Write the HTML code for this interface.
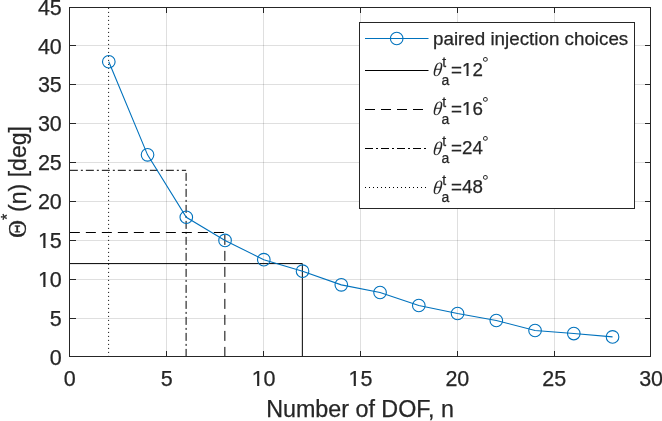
<!DOCTYPE html><html><head><meta charset="utf-8"><style>html,body{margin:0;padding:0;background:#fff;overflow:hidden}svg{display:block;will-change:transform}text{font-family:"Liberation Sans",Arial,sans-serif;fill:#262626;stroke:#262626;stroke-width:0.25px}.s{font-family:"Liberation Serif","Times New Roman",serif}.th{stroke:none}.dg{font-family:"Liberation Sans","DejaVu Sans",sans-serif}</style></head><body>
<svg width="662" height="421" viewBox="0 0 662 421">
<rect width="662" height="421" fill="#fff"/>
<path d="M166.50 8V356 M263.50 8V356 M360.50 8V356 M457.50 8V356 M554.50 8V356" stroke="#262626" stroke-opacity="0.15" stroke-width="1" fill="none"/>
<path d="M70 318.50H650 M70 279.50H650 M70 240.50H650 M70 201.50H650 M70 162.50H650 M70 123.50H650 M70 84.50H650 M70 45.50H650" stroke="#262626" stroke-opacity="0.15" stroke-width="1" fill="none"/>
<path d="M69.85 263.60H302.35M302.35 356.9V263.60" stroke="#000" stroke-width="1" fill="none"/>
<path d="M69.85 232.50H224.85M224.85 356.9V232.50" stroke="#000" stroke-width="1" fill="none" stroke-dasharray="10 6"/>
<path d="M69.85 170.30H186.10M186.10 356.9V170.30" stroke="#000" stroke-width="1" fill="none" stroke-dasharray="8 3 2 3"/>
<path d="M108.60 356.9V7" stroke="#000" stroke-width="1" fill="none" stroke-dasharray="1 3"/>
<polyline points="108.80,61.73 147.55,154.87 186.30,217.23 225.05,240.40 263.80,259.68 302.55,271.19 341.30,284.87 380.05,292.49 418.80,305.48 457.55,313.48 496.30,320.48 535.05,330.51 573.80,333.54 612.55,336.89" stroke="#0072bd" stroke-width="1.1" fill="none"/>
<circle cx="108.80" cy="61.73" r="6.3" stroke="#0072bd" stroke-width="1.1" fill="none"/>
<circle cx="147.55" cy="154.87" r="6.3" stroke="#0072bd" stroke-width="1.1" fill="none"/>
<circle cx="186.30" cy="217.23" r="6.3" stroke="#0072bd" stroke-width="1.1" fill="none"/>
<circle cx="225.05" cy="240.40" r="6.3" stroke="#0072bd" stroke-width="1.1" fill="none"/>
<circle cx="263.80" cy="259.68" r="6.3" stroke="#0072bd" stroke-width="1.1" fill="none"/>
<circle cx="302.55" cy="271.19" r="6.3" stroke="#0072bd" stroke-width="1.1" fill="none"/>
<circle cx="341.30" cy="284.87" r="6.3" stroke="#0072bd" stroke-width="1.1" fill="none"/>
<circle cx="380.05" cy="292.49" r="6.3" stroke="#0072bd" stroke-width="1.1" fill="none"/>
<circle cx="418.80" cy="305.48" r="6.3" stroke="#0072bd" stroke-width="1.1" fill="none"/>
<circle cx="457.55" cy="313.48" r="6.3" stroke="#0072bd" stroke-width="1.1" fill="none"/>
<circle cx="496.30" cy="320.48" r="6.3" stroke="#0072bd" stroke-width="1.1" fill="none"/>
<circle cx="535.05" cy="330.51" r="6.3" stroke="#0072bd" stroke-width="1.1" fill="none"/>
<circle cx="573.80" cy="333.54" r="6.3" stroke="#0072bd" stroke-width="1.1" fill="none"/>
<circle cx="612.55" cy="336.89" r="6.3" stroke="#0072bd" stroke-width="1.1" fill="none"/>
<path d="M69.5 7.5H650.5V356.5H69.5Z M69.50 357V351 M69.50 7V13 M166.50 357V351 M166.50 7V13 M263.50 357V351 M263.50 7V13 M360.50 357V351 M360.50 7V13 M457.50 357V351 M457.50 7V13 M554.50 357V351 M554.50 7V13 M650.50 357V351 M650.50 7V13 M69 356.50H76 M651 356.50H645 M69 318.50H76 M651 318.50H645 M69 279.50H76 M651 279.50H645 M69 240.50H76 M651 240.50H645 M69 201.50H76 M651 201.50H645 M69 162.50H76 M651 162.50H645 M69 123.50H76 M651 123.50H645 M69 84.50H76 M651 84.50H645 M69 45.50H76 M651 45.50H645 M69 7.50H76 M651 7.50H645" stroke="#262626" stroke-width="1" fill="none"/>
<text x="69.85" y="386" font-size="21.5" text-anchor="middle">0</text>
<text x="166.72" y="386" font-size="21.5" text-anchor="middle">5</text>
<text x="263.60" y="386" font-size="21.5" text-anchor="middle">10</text>
<text x="360.48" y="386" font-size="21.5" text-anchor="middle">15</text>
<text x="457.35" y="386" font-size="21.5" text-anchor="middle">20</text>
<text x="554.23" y="386" font-size="21.5" text-anchor="middle">25</text>
<text x="651.10" y="386" font-size="21.5" text-anchor="middle">30</text>
<text x="61.8" y="364.50" font-size="21.5" text-anchor="end">0</text>
<text x="61.8" y="325.62" font-size="21.5" text-anchor="end">5</text>
<text x="61.8" y="286.75" font-size="21.5" text-anchor="end">10</text>
<text x="61.8" y="247.87" font-size="21.5" text-anchor="end">15</text>
<text x="61.8" y="209.00" font-size="21.5" text-anchor="end">20</text>
<text x="61.8" y="170.12" font-size="21.5" text-anchor="end">25</text>
<text x="61.8" y="131.25" font-size="21.5" text-anchor="end">30</text>
<text x="61.8" y="92.37" font-size="21.5" text-anchor="end">35</text>
<text x="61.8" y="53.50" font-size="21.5" text-anchor="end">40</text>
<text x="61.8" y="14.62" font-size="21.5" text-anchor="end">45</text>
<text x="360" y="416.5" font-size="23.3" text-anchor="middle">Number of DOF, n</text>
<g transform="translate(26.3,0) rotate(-90)">
<text x="-238.1" y="0" font-size="25" class="s">&#920;</text>
<text x="-220" y="-13" font-size="16">*</text>
<text x="-212" y="0" font-size="23.1">(n) [deg]</text>
</g>
<rect x="359.5" y="22.5" width="275" height="186" fill="#fff" stroke="#262626" stroke-width="1"/>
<path d="M365 38.5H428.5" stroke="#0072bd" stroke-width="1.1"/>
<circle cx="396.7" cy="38.5" r="6.3" stroke="#0072bd" stroke-width="1.1" fill="none"/>
<text x="433" y="45" font-size="18.8">paired injection choices</text>
<path d="M365 70.5H428.5" stroke="#000" stroke-width="1"/>
<text transform="translate(431.6,75.90) skewX(-15)" font-size="19.5" class="s th">&#952;</text>
<text x="442.2" y="67.20" font-size="14">t</text>
<text x="441.6" y="84.50" font-size="14">a</text>
<text x="451" y="75.50" font-size="18.8">=12</text>
<text x="480.8" y="64.20" font-size="15" class="th dg">&#8728;</text>
<path d="M365 109.5H428.5" stroke="#000" stroke-width="1" stroke-dasharray="10 6"/>
<text transform="translate(431.6,115.20) skewX(-15)" font-size="19.5" class="s th">&#952;</text>
<text x="442.2" y="106.50" font-size="14">t</text>
<text x="441.6" y="123.80" font-size="14">a</text>
<text x="451" y="114.80" font-size="18.8">=16</text>
<text x="480.8" y="103.50" font-size="15" class="th dg">&#8728;</text>
<path d="M365 148.5H428.5" stroke="#000" stroke-width="1" stroke-dasharray="8 3 2 3"/>
<text transform="translate(431.6,154.50) skewX(-15)" font-size="19.5" class="s th">&#952;</text>
<text x="442.2" y="145.80" font-size="14">t</text>
<text x="441.6" y="163.10" font-size="14">a</text>
<text x="451" y="154.10" font-size="18.8">=24</text>
<text x="480.8" y="142.80" font-size="15" class="th dg">&#8728;</text>
<path d="M365 187.5H428.5" stroke="#000" stroke-width="1" stroke-dasharray="1 3"/>
<text transform="translate(431.6,193.70) skewX(-15)" font-size="19.5" class="s th">&#952;</text>
<text x="442.2" y="185.00" font-size="14">t</text>
<text x="441.6" y="202.30" font-size="14">a</text>
<text x="451" y="193.30" font-size="18.8">=48</text>
<text x="480.8" y="182.00" font-size="15" class="th dg">&#8728;</text>
<path d="M253 384H257V386H260V384H263V387H253Z M350 384H353V386H356V384H360V387H350Z M39 285H43V287H46V285H49V288H39Z M39 246H43V248H46V246H49V249H39Z M463 74H466V76H469V74H472V77H463Z M463 113H466V115H469V113H472V116H463Z" fill="#fff"/>
<rect x="257" y="384" width="1" height="2" fill="#fff" fill-opacity="0.11"/>
<rect x="259" y="384" width="1" height="2" fill="#fff" fill-opacity="0.75"/>
<rect x="353" y="384" width="1" height="2" fill="#fff" fill-opacity="0.70"/>
<rect x="355" y="384" width="1" height="2" fill="#fff" fill-opacity="0.13"/>
<rect x="43" y="285" width="1" height="2" fill="#fff" fill-opacity="0.29"/>
<rect x="45" y="285" width="1" height="2" fill="#fff" fill-opacity="0.50"/>
<rect x="43" y="246" width="1" height="2" fill="#fff" fill-opacity="0.29"/>
<rect x="45" y="246" width="1" height="2" fill="#fff" fill-opacity="0.50"/>
<rect x="466" y="74" width="1" height="2" fill="#fff" fill-opacity="0.53"/>
<rect x="468" y="74" width="1" height="2" fill="#fff" fill-opacity="0.45"/>
<rect x="466" y="113" width="1" height="2" fill="#fff" fill-opacity="0.53"/>
<rect x="468" y="113" width="1" height="2" fill="#fff" fill-opacity="0.45"/>
</svg></body></html>
